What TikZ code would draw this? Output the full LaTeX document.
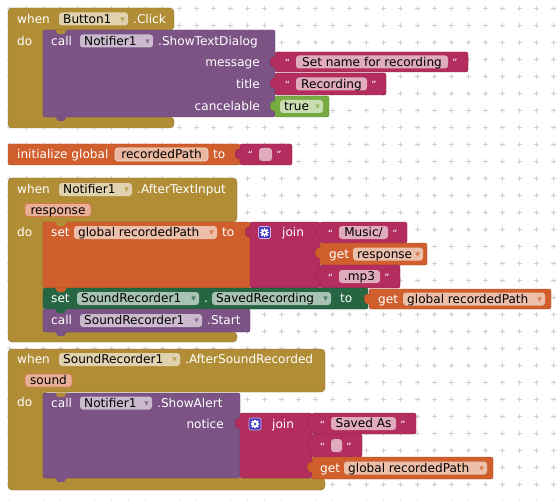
\documentclass[tikz,border=0pt]{standalone}
\usepackage{fontspec}
\setmainfont{DejaVu Sans}
\definecolor{MU}{HTML}{B18E35}
\definecolor{PU}{HTML}{7C5385}
\definecolor{PK}{HTML}{B32D5E}
\definecolor{OR}{HTML}{D05F2D}
\definecolor{DG}{HTML}{266643}
\definecolor{LG}{HTML}{77AB41}
\definecolor{GR}{HTML}{4B3BC4}
\definecolor{GD}{HTML}{D0D0D0}
\newcommand\fsz{\fontsize{12.1}{14}\selectfont}
\tikzset{
  wt/.style={inner sep=0, text=white, font=\fsz},
  bk/.style={inner sep=0, text=black, font=\fsz},
  qt/.style={inner sep=0, text=white, anchor=base, font=\fontsize{10}{10}\selectfont},
  gridmark/.style={GD, line width=0.9},
}
% white text, left / right aligned
\newcommand\Tw[4]{\node[wt, anchor=base west] (#1) at (#2,{#3+4.2}) {#4};}
\newcommand\Tr[4]{\node[wt, anchor=base east] (#1) at (#2,{#3+4.2}) {#4};}
% plain block
\newcommand\Blk[5]{\fill[#5, draw=#5!80!black, line width=0.4, rounded corners=2] (#1,#2) rectangle (#3,#4);}
% C-shaped event block
\newcommand\Cb[7]{\fill[MU, draw=MU!80!black, line width=0.4, rounded corners=4] (#1,#2) -- (#3,#2) -- (#3,#4) -- (#5,#4) -- (#5,#6) -- (#3,#6) -- (#3,#7) -- (#1,#7) -- cycle;}
% statement notch bump (upper colour into lower block)
\newcommand\Vt[3]{\fill[#3] ({#1+12},{#2-0.4}) -- ({#1+15},{#2+4}) -- ({#1+21},{#2+4}) -- ({#1+24},{#2-0.4}) -- cycle;}
% value tab on the left of a value block
\newcommand\Tb[3]{\fill[#3, draw=#3!80!black, line width=0.4] ({#1+0.6},{#2+5}) -- ({#1-1.5},{#2+5}) .. controls ({#1-6},{#2+5}) and ({#1-6},{#2+15}) .. ({#1-1.5},{#2+15}) -- ({#1+0.6},{#2+15});}
% dropdown field
\newcommand\Fd[6]{%
  \fill[#5!40!white, rounded corners=3] (#2,{#4-6.5}) rectangle (#3,{#4+6.5});
  \node[bk, anchor=base west] (#1) at ({#2+4},{#4+4.2}) {#6};
  \node[anchor=base east, inner sep=0, text=#5!85!white, font=\fontsize{9}{9}\selectfont] (#1a) at ({#3-3},{#4+3.3}) {▾};}
% text field (editable)
\newcommand\Ft[6]{%
  \fill[#5!45!white, draw=#5!20!white, line width=0.6, rounded corners=3] (#2,{#4-6.5}) rectangle (#3,{#4+6.5});
  \node[bk] (#1) at ({(#2+#3)/2},{#4+4.2}) [anchor=base] {#6};}
% parameter field
\newcommand\Pm[5]{%
  \fill[OR!50!white, draw=OR!85!white, line width=0.8, rounded corners=3] (#2,{#4-6.5}) rectangle (#3,{#4+6.5});
  \node[bk, anchor=base] (#1) at ({(#2+#3)/2},{#4+4.2}) {#5};}
% string block
\newcommand\Str[8]{%
  \Blk{#2}{#3}{#4}{#5}{PK}
  \Tb{#2}{#3}{PK}
  \fill[PK!40!white, rounded corners=3] (#6,{(#3+#5)/2-6.5}) rectangle (#7,{(#3+#5)/2+6.5});
  \node[bk, anchor=base] (#1) at ({(#6+#7)/2},{(#3+#5)/2+4.2}) {#8};
  \node[qt] (#1l) at ({#6-8.5},{(#3+#5)/2+4.5}) {“};
  \node[qt] (#1r) at ({#7+7},{(#3+#5)/2+4.5}) {”};}
% gear icon
\newcommand\Gr[3]{%
  \node[fill=GR, draw=GR!35!white, line width=0.6, rounded corners=2, minimum size=12, inner sep=0] (#1) at (#2,#3) {};
  \fill[white] (#2,#3) circle (3.1);
  \foreach \a in {0,45,...,135} \fill[white, rotate around={\a:(#2,#3)}] ({#2-0.9},{#3-4.4}) rectangle ({#2+0.9},{#3+4.4});
  \fill[GR] (#2,#3) circle (1.3);}
\begin{document}
\begin{tikzpicture}[x=1pt,y=-1pt]
\useasboundingbox (0,0) rectangle (557,500);
\fill[white] (0,0) rectangle (557,500);
\foreach \i in {0,...,32} \foreach \j in {0,...,29}
  \draw[gridmark] ({9.7+17*\i-2.5},{8.4+17*\j}) -- ++(5,0) ({9.7+17*\i},{8.4+17*\j-2.5}) -- ++(0,5);

% ---------- Block 1: when Button1.Click ----------
\Cb{8}{8}{174}{30}{43}{117}{128}
\Blk{43}{30}{275}{117}{PU}
\Vt{43}{30}{MU}
\Vt{43}{117}{PU}
\Tw{w1}{17}{19}{when}
\Fd{f1}{59}{128}{19}{MU}{Button1}
\Tw{c1}{133}{19}{.Click}
\Tw{d1}{17}{41}{do}
\Tw{k1}{51}{41}{call}
\Fd{f2}{80}{153}{41}{PU}{Notifier1}
\Tw{m1}{158}{41}{.ShowTextDialog}
\Tr{a1}{260}{62}{message}
\Tr{a2}{260}{84}{title}
\Tr{a3}{260}{106}{cancelable}
\Str{s1}{275}{52}{468}{72}{296}{448}{Set name for recording}
\Str{s2}{275}{73}{386}{95}{296}{367}{Recording}
\Blk{275}{96}{329}{117}{LG}
\Tb{275}{96}{LG}
\Fd{f3}{280}{323}{106.5}{LG}{true}

% ---------- Block 2: initialize global ----------
\Blk{8}{144}{240}{165}{OR}
\Tw{i1}{17}{154.5}{initialize global}
\Ft{f4}{115}{208}{154.5}{OR}{recordedPath}
\Tw{t2}{213}{154.5}{to}
\Str{s3}{240}{144}{292}{165}{259}{272}{}

% ---------- Block 3: when Notifier1.AfterTextInput ----------
\Cb{8}{178}{237}{222}{43}{332}{342}
\Tw{w3}{17}{189.5}{when}
\Fd{f5}{59}{132}{189.5}{MU}{Notifier1}
\Tw{e3}{137}{189.5}{.AfterTextInput}
\Pm{p1}{25}{91}{210}{response}
\Tw{d3}{17}{232}{do}
\Blk{43}{222}{250}{288}{OR}
\Tw{s4}{51}{232}{set}
\Fd{f6}{74}{217}{232.5}{OR}{global recordedPath}
\Tw{t4}{222}{232}{to}
\Blk{250}{222}{320}{288}{PK}
\Tb{250}{222}{PK}
\Gr{g0}{264.5}{232.5}
\Tw{j1}{282}{232.5}{join}
\Str{s5}{320}{222}{407}{243}{339}{388}{Music/}
\Blk{320}{243}{427}{265}{OR}
\Tb{320}{243}{OR}
\Tw{g1}{329}{254}{get}
\Fd{f7}{353}{423}{254}{OR}{response}
\Str{s6}{320}{265}{400}{288}{339}{380}{.mp3}
\Blk{43}{288}{368}{309}{DG}
\Tw{s7}{51}{298.5}{set}
\Fd{f8}{77}{199}{298.5}{DG}{SoundRecorder1}
\Tw{dt}{204}{298.5}{.}
\Fd{f9}{212}{331}{298.5}{DG}{SavedRecording}
\Tw{t5}{340}{298.5}{to}
\Blk{369}{289}{551}{309}{OR}
\Tb{369}{289}{OR}
\Tw{g2}{378}{299}{get}
\Fd{f10}{403}{545}{299}{OR}{global recordedPath}
\Blk{43}{309}{250}{332}{PU}
\Tw{k2}{51}{320.5}{call}
\Fd{f11}{80}{202}{320.5}{PU}{SoundRecorder1}
\Tw{st}{207}{320.5}{.Start}
\Vt{43}{222}{MU}
\Vt{43}{288}{OR}
\Vt{43}{309}{DG}
\Vt{43}{332}{PU}

% ---------- Block 4: when SoundRecorder1.AfterSoundRecorded ----------
\Cb{8}{349}{325}{392}{43}{478}{490}
\Tw{w4}{17}{359.5}{when}
\Fd{f12}{59}{180}{359.5}{MU}{SoundRecorder1}
\Tw{e4}{185}{359.5}{.AfterSoundRecorded}
\Pm{p2}{25}{72}{380.5}{sound}
\Tw{d4}{17}{402}{do}
\Blk{43}{393}{240}{478}{PU}
\Tw{k3}{51}{403}{call}
\Fd{f13}{80}{152}{403}{PU}{Notifier1}
\Tw{sa}{157}{403}{.ShowAlert}
\Tr{n1}{224}{424}{notice}
\Blk{240}{413}{312}{478}{PK}
\Tb{240}{413}{PK}
\Gr{g4}{255}{424}
\Tw{j2}{272}{424}{join}
\Str{s8}{312}{413}{416}{434}{331}{396}{Saved As}
\Str{s9}{312}{434}{362}{457}{331}{342}{}
\Blk{312}{457}{493}{479}{OR}
\Tb{312}{457}{OR}
\Tw{g3}{320}{468}{get}
\Fd{f14}{344}{487}{468}{OR}{global recordedPath}
\Vt{43}{393}{MU}
\Vt{43}{478}{PU}
\end{tikzpicture}
\end{document}
